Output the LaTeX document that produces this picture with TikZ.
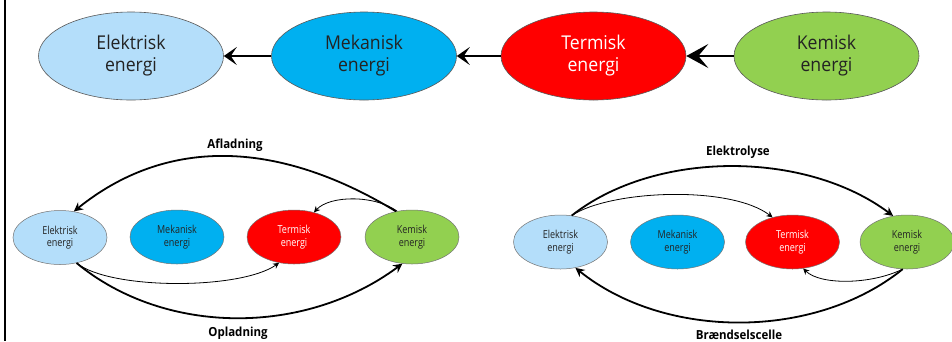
\documentclass[tikz,border=0pt]{standalone}
\usepackage{fontspec}
\setmainfont{Open Sans}
\newfontfamily\bigfont[FakeStretch=0.93]{Open Sans}
\newfontfamily\smallfont[FakeStretch=0.82]{Open Sans}
\newfontfamily\labelfont[FakeStretch=0.92]{Open Sans}
\usetikzlibrary{shapes.geometric,arrows.meta}
\definecolor{elblue}{RGB}{180,222,250}
\definecolor{mekblue}{RGB}{0,176,240}
\definecolor{termred}{RGB}{255,0,0}
\definecolor{kemgreen}{RGB}{146,208,80}
\definecolor{textgray}{RGB}{35,35,35}
\tikzset{
	big/.style={ellipse, draw=black!65, line width=0.6pt, minimum width=185pt, minimum height=88pt, inner sep=0pt, align=center, text=textgray, font=\bigfont\fontsize{19}{22}\selectfont},
	small/.style={ellipse, draw=black!55, line width=0.5pt, minimum width=94pt, minimum height=54pt, inner sep=0pt, align=center, text=textgray, font=\smallfont\fontsize{11}{12.5}\selectfont},
	thick arrow/.style={line width=2.4pt, -{Stealth[length=13pt, width=18pt, inset=6pt]}},
	curve arrow/.style={line width=1.8pt, -{Stealth[length=9pt, width=9pt, inset=3pt]}},
	thin arrow/.style={line width=0.8pt, -{Stealth[length=6pt, width=6pt, inset=2pt]}},
	label/.style={font=\labelfont\bfseries\fontsize{12.5}{14}\selectfont, text=black}
}
\begin{document}
\begin{tikzpicture}[x=1pt, y=1pt]
	\useasboundingbox (0,0) rectangle (952,-341);
	\fill [white] (0,0) rectangle (952,-341);
	\draw [line width=2pt] (5,0) -- (5,-341);
	% top row
	\node [big, fill=elblue] (e) at (131,-56) {Elektrisk\\energi};
	\node [big, fill=mekblue] (m) at (364,-56) {Mekanisk\\energi};
	\node [big, fill=termred, text=white] (t) at (593.5,-56) {Termisk\\energi};
	\node [big, fill=kemgreen] (k) at (826.5,-56) {Kemisk\\energi};
	\draw [thick arrow] (m) -- (e);
	\draw [thick arrow] (t) -- (m);
	\draw [line width=2.8pt, -{Stealth[length=22pt, width=24pt, inset=10pt]}] (k) -- (t);
	% afladning / opladning
	\node [small, fill=elblue] (e1) at (60,-237.5) {Elektrisk\\energi};
	\node [small, fill=mekblue] (m1) at (177,-237) {Mekanisk\\energi};
	\node [small, fill=termred, text=white] (t1) at (294,-237) {Termisk\\energi};
	\node [small, fill=kemgreen] (k1) at (412,-237) {Kemisk\\energi};
	\draw [curve arrow] (k1.122) .. controls (275,-138) and (165,-138) .. (e1.62);
	\draw [thin arrow] (k1.120) .. controls (375,-195) and (330,-195) .. (t1.51);
	\draw [curve arrow] (e1.-57) .. controls (165,-336) and (305,-336) .. (k1.-110);
	\draw [thin arrow] (e1.-57) .. controls (110,-290) and (240,-290) .. (t1.-120);
	\node [label] (afl) at (235,-145) {Afladning};
	\node [label] (opl) at (238,-333) {Opladning};
	% elektrolyse / braendselscelle
	\node [small, fill=elblue] (e2) at (560.5,-242) {Elektrisk\\energi};
	\node [small, fill=mekblue] (m2) at (677.5,-242) {Mekanisk\\energi};
	\node [small, fill=termred, text=white] (t2) at (792.5,-242) {Termisk\\energi};
	\node [small, fill=kemgreen] (k2) at (907,-242) {Kemisk\\energi};
	\draw [curve arrow] (e2.67) .. controls (655,-150) and (805,-150) .. (k2.118);
	\draw [thin arrow] (e2.67) .. controls (610,-190) and (730,-185) .. (t2.129);
	\draw [curve arrow] (k2.-99) .. controls (815,-340) and (665,-340) .. (e2.-60);
	\draw [thin arrow] (k2.-99) .. controls (870,-285) and (820,-285) .. (t2.-68);
	\node [label] (ely) at (738,-152) {Elektrolyse};
	\node [label] (bsc) at (739,-335) {Brændselscelle};
\end{tikzpicture}
\end{document}
